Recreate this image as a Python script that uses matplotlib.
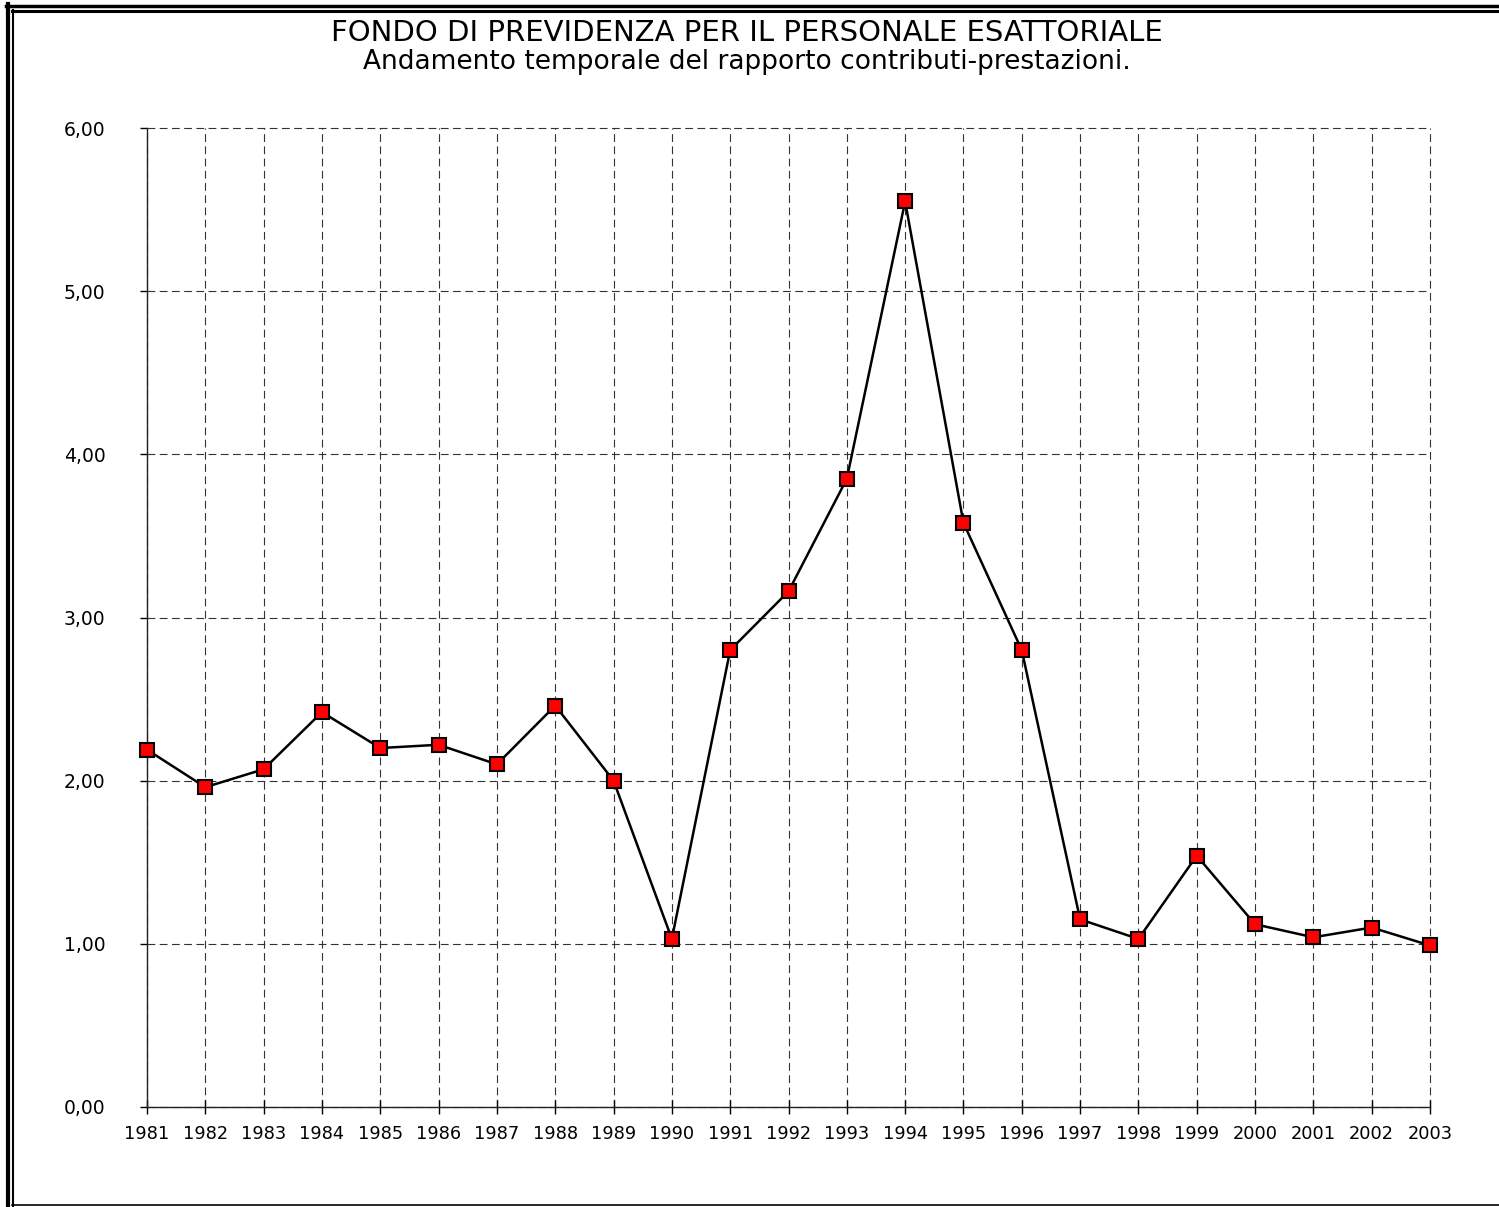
import matplotlib.pyplot as plt
from matplotlib.lines import Line2D

years = list(range(1981, 2004))
ratio = [2.19, 1.96, 2.07, 2.42, 2.20, 2.22, 2.10, 2.46, 2.00, 1.03,
         2.80, 3.16, 3.85, 5.55, 3.58, 2.80, 1.15, 1.03, 1.54, 1.12,
         1.04, 1.10, 0.99]
yticks = [0, 1, 2, 3, 4, 5, 6]
ytick_labels = ['0,00', '1,00', '2,00', '3,00', '4,00', '5,00', '6,00']

W, H = 1499, 1207
fig = plt.figure(figsize=(W / 100, H / 100), dpi=100)
ax = fig.add_axes([147 / W, 100 / H, (1430 - 147) / W, (1107 - 128) / H])

ax.plot(years, ratio, color='black', lw=1.8, marker='s', ms=10.5,
        mfc='#ff0000', mec='black', mew=1.5, clip_on=False, zorder=5)

ax.set_xlim(1981, 2003)
ax.set_ylim(0, 6)
ax.set_xticks(years)
ax.set_xticklabels([str(y) for y in years], fontsize=12.8)
ax.set_yticks(yticks)
ax.set_yticklabels(ytick_labels, fontsize=13.5)
ax.tick_params(axis='y', direction='out', length=5, width=1, pad=25)
ax.tick_params(axis='x', direction='inout', length=10, width=1, pad=8)

ax.grid(True, color='#333333', lw=0.8, linestyle=(0, (7, 4)))
ax.set_axisbelow(True)
for gl in ax.get_xgridlines() + ax.get_ygridlines():
    gl.set_clip_on(False)
for s in ['top', 'right']:
    ax.spines[s].set_visible(False)
for s in ['left', 'bottom']:
    ax.spines[s].set_linewidth(1)
    ax.spines[s].set_color('#222222')

fig.text(747 / W, 1 - 33 / H, 'FONDO DI PREVIDENZA PER IL PERSONALE ESATTORIALE',
         ha='center', va='center', fontsize=21)
fig.text(747 / W, 1 - 62 / H, 'Andamento temporale del rapporto contributi-prestazioni.',
         ha='center', va='center', fontsize=19)

# double frame around the sheet
fig.add_artist(Line2D([8 / W, 8 / W], [0, 1 - 4 / H], transform=fig.transFigure, color='black', lw=3))
fig.add_artist(Line2D([13 / W, 13 / W], [0, 1 - 10 / H], transform=fig.transFigure, color='black', lw=1.5))
fig.add_artist(Line2D([6 / W, 1], [1 - 5.5 / H, 1 - 5.5 / H], transform=fig.transFigure, color='black', lw=2.5))
fig.add_artist(Line2D([12 / W, 1], [1 - 10.5 / H, 1 - 10.5 / H], transform=fig.transFigure, color='black', lw=2.2))
fig.add_artist(Line2D([12 / W, 1], [2 / H, 2 / H], transform=fig.transFigure, color='black', lw=1.2))

fig.savefig('out.png', dpi=100)
